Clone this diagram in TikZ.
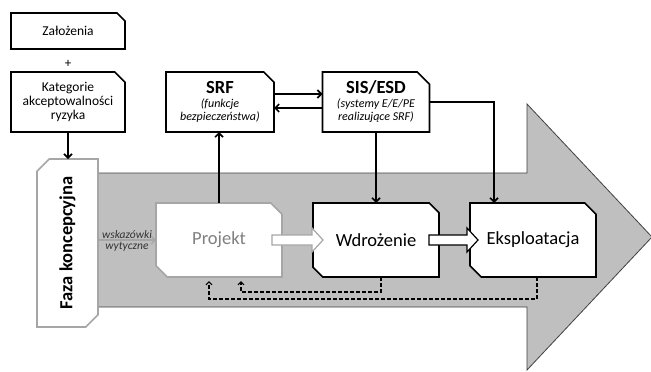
\documentclass[tikz,border=0pt]{standalone}
\usepackage{fontspec}
\setmainfont{Carlito}
\usepackage{graphicx}
\usetikzlibrary{shapes.misc,calc,arrows.meta}

\definecolor{bandgray}{HTML}{BFBFBF}
\definecolor{edgegray}{HTML}{A6A6A6}
\definecolor{textgray}{HTML}{808080}

% hollow block arrow: start, tip
\newcommand{\fatarrow}[3][]{%
  \draw[line width=1.2pt,fill=white,#1] ($#2+(0,-5)$) -- ($#3+(-11,-5)$) -- ($#3+(-11,-12)$) -- #3
    -- ($#3+(-11,12)$) -- ($#3+(-11,5)$) -- ($#2+(0,5)$) -- cycle;}
\newcommand{\headline}[1]{\fontsize{18.5}{18}\selectfont\upshape\bfseries #1}

\begin{document}
\begin{tikzpicture}[x=1pt,y=-1pt,
        box/.style={draw,line width=1.6pt,fill=white,chamfered rectangle,
            chamfered rectangle corners={north east},chamfered rectangle xsep=7pt,
            inner sep=0pt,outer sep=0pt,align=center,font=\fontsize{13.5}{14}\selectfont},
        note/.style={box,font=\fontsize{12}{13}\selectfont\itshape},
        stage/.style={box,chamfered rectangle corners={north east,south west},
            chamfered rectangle xsep=11pt,minimum width=126pt,minimum height=74pt,
            font=\fontsize{18.5}{20}\selectfont},
        conn/.style={line width=1.6pt,-{Straight Barb[length=4pt,width=8pt]}},
        back/.style={line width=1.1pt,dashed,dash pattern=on 4pt off 2pt,
            -{Straight Barb[length=3pt,width=6pt]},shorten >=4pt}]
    \useasboundingbox (0,0) rectangle (651,372);

    % big background arrow
    \filldraw[fill=bandgray,draw=black!75,line width=0.8pt] (60,173) -- (527,173) -- (527,104)
        -- (652,237) -- (527,370) -- (527,307) -- (60,307) -- cycle;

    % inputs
    \node[box,minimum width=114pt,minimum height=36pt] (zal) at (68,31) {Założenia};
    \node (plus) at (68,64) {\fontsize{13}{14}\selectfont +};
    \node[box,minimum width=114pt,minimum height=60pt] (kat) at (68,102)
        {Kategorie\\akceptowalności\\ryzyka};

    % safety functions and systems
    \node[note,minimum width=108pt,minimum height=60pt] (srf) at (220,102)
        {\headline{SRF}\\[1pt](funkcje\\bezpieczeństwa)};
    \node[note,minimum width=107pt,minimum height=60pt,chamfered rectangle xsep=9pt] (sis) at (376,102)
        {\headline{SIS/ESD}\\[1pt](systemy E/E/PE\\realizujące SRF)};

    % concept phase
    \node[box,draw=edgegray,chamfered rectangle corners={north west,south east},
        chamfered rectangle xsep=9pt,minimum width=61pt,minimum height=168pt] (faza) at (67.5,243)
        {\rotatebox{90}{\fontsize{18.5}{20}\selectfont\bfseries Faza koncepcyjna}};

    % life cycle stages
    \node[stage,draw=edgegray,text=textgray,chamfered rectangle xsep=10pt] (proj) at (219,240) {Projekt};
    \node[stage] (wdr) at (376,240) {Wdrożenie};
    \node[stage] (eks) at (533,240) {Eksploatacja};

    % connectors
    \draw[conn] (kat.south) -- (kat.south |- faza.north);
    \draw[conn] ([yshift=8pt]srf.east) -- ([yshift=8pt]srf.east -| sis.west);
    \draw[conn] ([yshift=-6pt]sis.west) -- ([yshift=-6pt]sis.west -| srf.east);
    \draw[conn] (proj.north) -- (proj.north |- srf.south);
    \draw[conn] (sis.south) -- (sis.south |- wdr.north);
    \draw[conn] (sis.east) -| ([xshift=24pt]eks.north west);
    \draw[conn,edgegray,line width=1.2pt] (faza.east |- proj.west) -- (proj.west)
        node[midway,above,text=black!80,font=\fontsize{11.5}{12}\selectfont\itshape,inner sep=1pt] {wskazówki}
        node[midway,below,text=black!80,font=\fontsize{11.5}{12}\selectfont\itshape,inner sep=2pt] {wytyczne};

    % feedback
    \draw[back] ([xshift=5pt]wdr.south) -- ++(0,15) -| ([xshift=22pt]proj.south);
    \draw[back] ([xshift=4pt]eks.south) -- ++(0,22) -| ([xshift=-10pt]proj.south);

    % block arrows between stages
    \fatarrow[draw=edgegray]{([xshift=-10pt]proj.east)}{([xshift=10pt]wdr.west)}
    \fatarrow{([xshift=-10pt]wdr.east)}{([xshift=8pt]eks.west)}
\end{tikzpicture}
\end{document}
